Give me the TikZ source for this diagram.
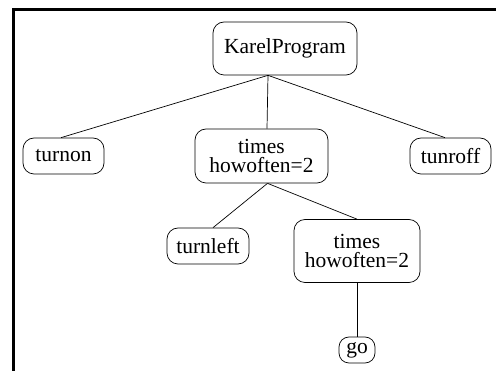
\documentclass[tikz,border=0pt]{standalone}
\usepackage{fontspec}
\setmainfont{Liberation Serif}
\begin{document}
\begin{tikzpicture}[x=1pt,y=-1pt,
  treenode/.style={draw, line width=0.7pt, rounded corners=11pt, inner sep=0pt,
    align=center, font=\fontsize{21.5}{19.5}\selectfont},
  edge/.style={line width=0.7pt},
  frame/.style={line width=3pt, line join=miter}]
\useasboundingbox (0,0) rectangle (496,371);
% partial frame: top and left sides
\draw[frame] (496,9.5) -- (13.5,9.5) -- (13.5,371);
% tree nodes
\node[treenode, minimum width=144pt, minimum height=53pt] (kp) at (285,48.5) {KarelProgram};
\node[treenode, minimum width=81pt, minimum height=36pt] (turnon) at (63.5,156) {turnon};
\node[treenode, minimum width=133pt, minimum height=54pt] (t1) at (261.5,156) {times\\howoften=2};
\node[treenode, minimum width=81pt, minimum height=36pt] (tunroff) at (450.5,156) {tunroff};
\node[treenode, minimum width=82pt, minimum height=36pt] (tl) at (208,246) {turnleft};
\node[treenode, minimum width=126pt, minimum height=63pt] (t2) at (357,251) {times\\howoften=2};
\node[treenode, minimum width=36pt, minimum height=26pt, rounded corners=10pt] (go) at (357,350) {go};
% edges
\draw[edge] ([xshift=-17pt]kp.south) -- ([xshift=-2.5pt]turnon.north);
\draw[edge] ([xshift=-17pt]kp.south) -- ([xshift=5.5pt]t1.north);
\draw[edge] ([xshift=-17pt]kp.south) -- ([xshift=-5.5pt]tunroff.north);
\draw[edge] ([xshift=6pt]t1.south) -- ([xshift=5pt]tl.north);
\draw[edge] ([xshift=6pt]t1.south) -- (t2.north);
\draw[edge] (t2.south) -- (go.north);
\end{tikzpicture}
\end{document}
